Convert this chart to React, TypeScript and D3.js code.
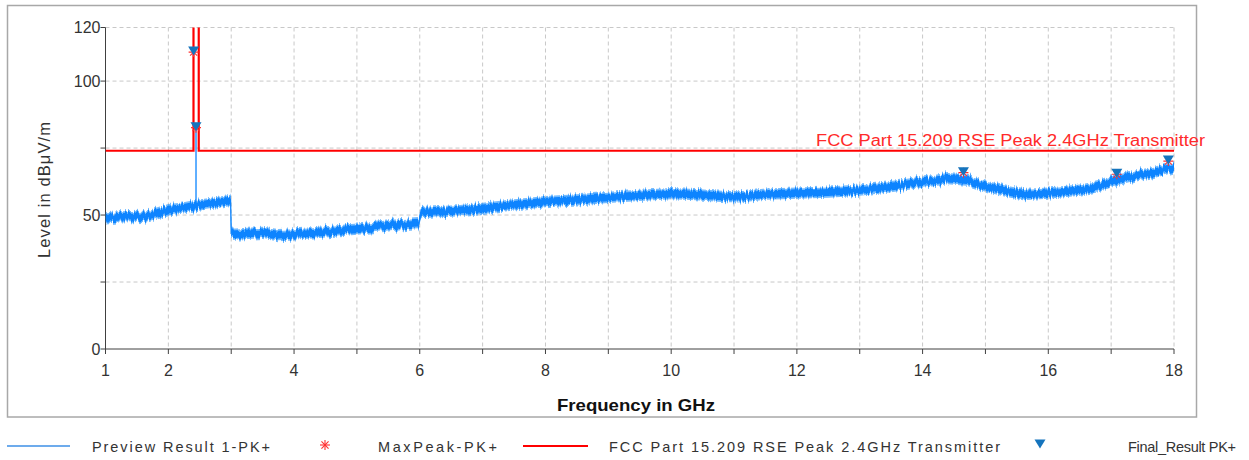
import React from 'react';
import * as d3 from 'd3';

// ---- data ----
const traceFreq = [1.0, 1.2, 1.4, 1.6, 1.7, 1.85, 2.0, 2.2, 2.4, 2.6, 2.8, 2.99, 3.0, 3.2, 3.5, 3.75, 4.0, 4.3, 4.6, 5.0, 5.3, 5.6, 5.98, 6.02, 6.3, 6.6, 7.0, 7.5, 8.0, 8.5, 9.0, 9.5, 10.0, 10.4, 10.8, 11.1, 11.5, 12.0, 12.5, 13.0, 13.5, 14.0, 14.4, 14.7, 15.0, 15.3, 15.6, 16.0, 16.5, 16.8, 17.0, 17.4, 17.7, 18.0];
const traceLevel = [48.9, 49.3, 49.4, 49.5, 49.9, 51.0, 52.0, 52.5, 53.4, 54.1, 54.7, 55.5, 42.8, 43.1, 43.5, 42.7, 43.0, 43.3, 43.9, 44.7, 45.4, 46.2, 46.8, 50.9, 51.3, 51.6, 52.5, 53.8, 55.0, 55.7, 56.6, 57.3, 58.0, 57.6, 57.0, 56.8, 57.8, 58.2, 58.6, 59.3, 60.6, 62.3, 63.6, 63.0, 60.8, 59.0, 57.6, 58.2, 59.3, 60.6, 62.4, 64.6, 66.0, 68.0];

const spikeFreq = [2.44];
const spikeLevel = [83.0];

const limitFreq = [1, 2.4, 2.4, 2.4835, 2.4835, 18];
const limitLevel = [74, 74, 200, 200, 74, 74];

const finalFreq = [2.402, 2.44, 14.65, 17.09, 17.91];
const finalLevel = [111.2, 83.0, 66.2, 65.6, 70.5];

const xTicks = d3.range(1, 19);
const xLabels = [1, 2, 4, 6, 8, 10, 12, 14, 16, 18];
const yTicks = [0, 25, 50, 75, 100, 120];
const yLabels = [0, 50, 100, 120];

const legendNames = ['Preview Result 1-PK+', 'MaxPeak-PK+', 'FCC Part 15.209 RSE Peak 2.4GHz Transmitter', 'Final_Result PK+'];
const limitLabel = 'FCC Part 15.209 RSE Peak 2.4GHz Transmitter';

// ---- layout ----
const W = 1249;
const H = 460;
const left = 105.5;
const right = 1174;
const top = 27.5;
const bottom = 349;
const FONT = "'Liberation Sans', Arial, sans-serif";
const TRACE = '#0a84ff';
const TRI = '#1574bd';
const RED = '#ff0000';

const x = d3.scaleLinear().domain([1, 18]).range([left, right]);
const y = d3.scaleLinear().domain([0, 120]).range([bottom, top]);

const idx = traceFreq.map((_, i) => i);
const bandOuter = d3.area<number>().x(i => x(traceFreq[i])).y0(i => y(traceLevel[i] - 2.1)).y1(i => y(traceLevel[i] + 2.1));
const bandInner = d3.area<number>().x(i => x(traceFreq[i])).y0(i => y(traceLevel[i] - 1.45)).y1(i => y(traceLevel[i] + 1.45));
const centerLine = d3.line<number>().x(i => x(traceFreq[i])).y(i => y(traceLevel[i]));
const limitLine = d3.line<number>().x(i => x(limitFreq[i])).y(i => y(limitLevel[i]));

function Asterisk({ cx, cy, r = 5 }: { cx: number; cy: number; r?: number }) {
  const d = 0.7071 * r;
  return (
    <g stroke="#ff3030" strokeWidth={1.1}>
      <line x1={cx - r} y1={cy} x2={cx + r} y2={cy} />
      <line x1={cx} y1={cy - r} x2={cx} y2={cy + r} />
      <line x1={cx - d} y1={cy - d} x2={cx + d} y2={cy + d} />
      <line x1={cx - d} y1={cy + d} x2={cx + d} y2={cy - d} />
    </g>
  );
}

function Tri({ cx, cy }: { cx: number; cy: number }) {
  return <path d={`M${cx - 5.5},${cy - 4.5}L${cx + 5.5},${cy - 4.5}L${cx},${cy + 4.5}Z`} fill={TRI} />;
}

export default function App() {
  const spikeBase = (f: number) => {
    const i = d3.bisectLeft(traceFreq, f);
    return traceLevel[Math.min(i, traceLevel.length - 1)];
  };
  return (
    <svg width={W} height={H} style={{ position: 'absolute', left: 0, top: 0, background: '#fff' }} fontFamily={FONT}>
      <defs>
        <clipPath id="plot">
          <rect x={left} y={top} width={right - left + 1} height={bottom - top} />
        </clipPath>
        <filter id="jag" filterUnits="userSpaceOnUse" x={left - 5} y={top} width={right - left + 10} height={bottom - top}>
          <feTurbulence type="fractalNoise" baseFrequency="0.6 0.015" numOctaves={2} seed={3} result="t" />
          <feColorMatrix in="t" type="matrix" values="0 0 0 0 0.5  0 1 0 0 0  0 0 0 0 0  0 0 0 0 1" result="m" />
          <feDisplacementMap in="SourceGraphic" in2="m" scale={9} xChannelSelector="R" yChannelSelector="G" />
        </filter>
      </defs>
      <rect x={0} y={0} width={W} height={H} fill="#fff" />
      <rect x={7.5} y={5.5} width={1189} height={411.5} fill="#fff" stroke="#a8a8a8" strokeWidth={1.5} />

      {/* grid */}
      <g stroke="#c8c8c8" strokeDasharray="4,3" strokeWidth={1}>
        {yTicks.filter(v => v > 0).map(v => (
          <line key={'gy' + v} x1={left} x2={right} y1={y(v)} y2={y(v)} />
        ))}
        {xTicks.filter(v => v > 1).map(v => (
          <line key={'gx' + v} x1={x(v)} x2={x(v)} y1={top} y2={bottom} />
        ))}
      </g>

      {/* axes */}
      <g stroke="#404040" strokeWidth={1}>
        <line x1={left} x2={left} y1={top} y2={bottom} />
        <line x1={left} x2={right} y1={bottom} y2={bottom} />
        {yTicks.map(v => (
          <line key={'ty' + v} x1={left - 5} x2={left} y1={y(v)} y2={y(v)} />
        ))}
        {xTicks.map(v => (
          <line key={'tx' + v} x1={x(v)} x2={x(v)} y1={bottom} y2={bottom + 5} />
        ))}
      </g>
      <g fill="#333" fontSize={16}>
        {yLabels.map(v => (
          <text key={'ly' + v} x={left - 5} y={y(v) + 5.5} textAnchor="end">{v}</text>
        ))}
        {xLabels.map(v => (
          <text key={'lx' + v} x={x(v)} y={376} textAnchor="middle">{v}</text>
        ))}
      </g>
      <text x={45} y={190} fill="#333" fontSize={16.5} textAnchor="middle" transform="rotate(-90 45 190)" dy={5} textLength={136} lengthAdjust="spacing">Level in dBμV/m</text>
      <text x={636} y={411} fill="#111" fontSize={17} fontWeight="bold" textAnchor="middle" textLength={158} lengthAdjust="spacingAndGlyphs">Frequency in GHz</text>

      {/* data */}
      <g clipPath="url(#plot)">
        <g filter="url(#jag)">
          <path d={bandOuter(idx) || ''} fill={TRACE} opacity={0.55} />
          <path d={bandInner(idx) || ''} fill={TRACE} />
          <path d={centerLine(idx) || ''} fill="none" stroke={TRACE} strokeWidth={1.3} />
        </g>
        {spikeFreq.map((f, i) => (
          <line key={'sp' + i} x1={x(f)} x2={x(f)} y1={y(spikeBase(f))} y2={y(spikeLevel[i])} stroke={TRACE} strokeWidth={1.3} />
        ))}
        <path d={limitLine(limitFreq.map((_, i) => i)) || ''} fill="none" stroke={RED} strokeWidth={2.2} />
        {finalFreq.map((f, i) => (
          <g key={'m' + i}>
            <Asterisk cx={x(f)} cy={y(finalLevel[i]) + 1} />
            <Tri cx={x(f)} cy={y(finalLevel[i])} />
          </g>
        ))}
      </g>
      <text x={1205} y={146} fill="#ff2a2a" fontSize={16} textAnchor="end" textLength={389} lengthAdjust="spacingAndGlyphs">{limitLabel}</text>

      {/* legend */}
      <g fontSize={14.5} fill="#333">
        <line x1={7} x2={70} y1={446} y2={446} stroke="#3d8fe6" strokeWidth={1.5} />
        <text x={92} y={451.5} textLength={178} lengthAdjust="spacing">{legendNames[0]}</text>
        <Asterisk cx={325} cy={445} r={5} />
        <text x={378} y={451.5} textLength={119} lengthAdjust="spacing">{legendNames[1]}</text>
        <line x1={523} x2={588} y1={446} y2={446} stroke={RED} strokeWidth={2.2} />
        <text x={609} y={451.5} textLength={391} lengthAdjust="spacing">{legendNames[2]}</text>
        <Tri cx={1040} cy={444} />
        <text x={1128} y={451.5} textLength={108} lengthAdjust="spacing">{legendNames[3]}</text>
      </g>
    </svg>
  );
}
